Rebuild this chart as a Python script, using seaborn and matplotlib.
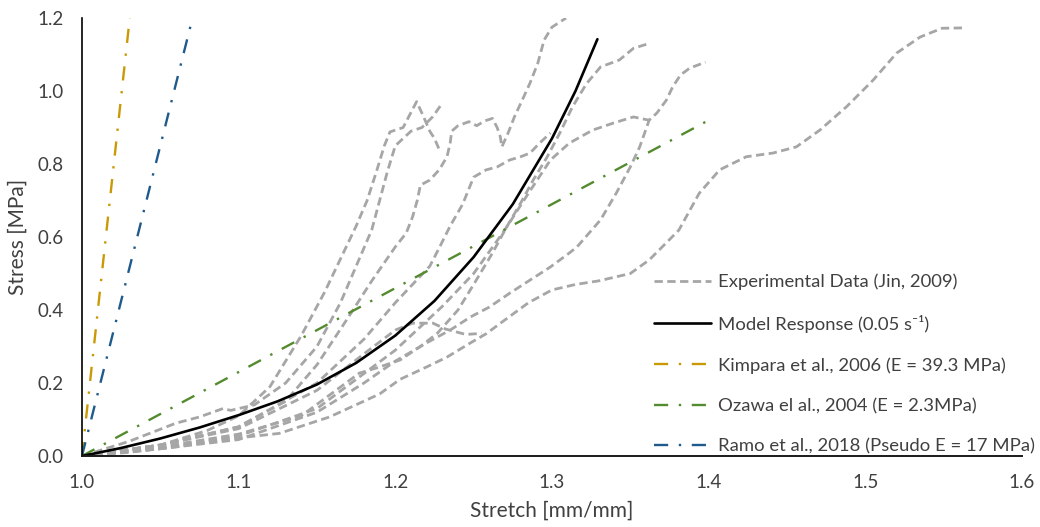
import numpy as np
import pandas as pd
import matplotlib
matplotlib.use("Agg")
import matplotlib.pyplot as plt
import seaborn as sns

# Experimental stress-stretch traces (Jin, 2009): stretch [mm/mm], stress [MPa]
exp_1_x = [1.0, 1.03, 1.06, 1.09, 1.126, 1.158, 1.19, 1.203, 1.22, 1.233, 1.248, 1.258, 1.27, 1.285, 1.30,
           1.315, 1.33, 1.35, 1.362, 1.372, 1.381, 1.394, 1.407, 1.424, 1.441, 1.456, 1.471, 1.488, 1.505,
           1.52, 1.535, 1.549, 1.563]
exp_1_y = [0.0, 0.01, 0.025, 0.045, 0.062, 0.107, 0.17, 0.21, 0.244, 0.271, 0.31, 0.335, 0.373, 0.42, 0.455,
           0.47, 0.48, 0.50, 0.537, 0.58, 0.619, 0.72, 0.784, 0.82, 0.83, 0.847, 0.893, 0.957, 1.03,
           1.104, 1.148, 1.172, 1.173]

exp_2_x = [1.0, 1.05, 1.1, 1.15, 1.18, 1.2, 1.22, 1.235, 1.248, 1.26, 1.273, 1.286, 1.299, 1.311, 1.316,
           1.331, 1.341, 1.35, 1.356, 1.362, 1.367, 1.373, 1.377, 1.382, 1.388, 1.398]
exp_2_y = [0.0, 0.02, 0.045, 0.12, 0.2, 0.26, 0.31, 0.345, 0.381, 0.408, 0.446, 0.482, 0.518, 0.556, 0.573,
           0.647, 0.72, 0.792, 0.847, 0.92, 0.94, 0.975, 1.011, 1.044, 1.063, 1.079]

exp_3_x = [1.0, 1.05, 1.1, 1.14, 1.177, 1.19, 1.203, 1.216, 1.227, 1.24, 1.25, 1.262, 1.271, 1.28, 1.288,
           1.297, 1.305, 1.313, 1.322, 1.331, 1.343, 1.352, 1.3625]
exp_3_y = [0.0, 0.025, 0.06, 0.11, 0.227, 0.244, 0.263, 0.30, 0.337, 0.40, 0.47, 0.556, 0.627, 0.693, 0.756,
           0.82, 0.885, 0.956, 1.02, 1.066, 1.085, 1.117, 1.131]

exp_4_x = [1.0, 1.05, 1.1, 1.13, 1.15, 1.17, 1.185, 1.2, 1.207, 1.211, 1.214, 1.216, 1.222, 1.228, 1.233,
           1.235, 1.236, 1.24, 1.247, 1.252, 1.257, 1.262, 1.265, 1.267, 1.268, 1.272, 1.276, 1.281, 1.286,
           1.291, 1.295, 1.30, 1.309]
exp_4_y = [0.0, 0.03, 0.08, 0.15, 0.25, 0.38, 0.48, 0.573, 0.611, 0.655, 0.70, 0.742, 0.756, 0.784, 0.82,
           0.857, 0.89, 0.905, 0.916, 0.905, 0.918, 0.925, 0.90, 0.875, 0.847, 0.885, 0.929, 0.975, 1.022,
           1.077, 1.14, 1.175, 1.20]

exp_5_x = [1.0, 1.05, 1.08, 1.1, 1.12, 1.14, 1.155, 1.165, 1.175, 1.182, 1.188, 1.193, 1.1966, 1.205,
           1.2136, 1.218, 1.222, 1.225, 1.228]
exp_5_y = [0.0, 0.03, 0.07, 0.11, 0.19, 0.33, 0.45, 0.54, 0.63, 0.70, 0.78, 0.85, 0.888, 0.90,
           0.971, 0.93, 0.89, 0.87, 0.84]

exp_6_x = [1.0, 1.03, 1.06, 1.075, 1.09, 1.095, 1.11, 1.13, 1.15, 1.165, 1.175, 1.185, 1.19, 1.195, 1.2,
           1.21, 1.217, 1.224, 1.23]
exp_6_y = [0.0, 0.04, 0.09, 0.107, 0.13, 0.125, 0.14, 0.2, 0.3, 0.42, 0.52, 0.62, 0.70, 0.78, 0.85,
           0.89, 0.90, 0.93, 0.967]

exp_7_x = [1.0, 1.05, 1.1, 1.15, 1.18, 1.2, 1.222, 1.228, 1.235, 1.243, 1.25, 1.258, 1.265, 1.273, 1.28,
           1.286, 1.292, 1.299]
exp_7_y = [0.0, 0.03, 0.08, 0.2, 0.32, 0.42, 0.52, 0.57, 0.63, 0.69, 0.764, 0.784, 0.792, 0.811, 0.82,
           0.83, 0.857, 0.885]

exp_8_x = [1.0, 1.05, 1.1, 1.15, 1.2, 1.23, 1.25, 1.27, 1.285, 1.299, 1.311, 1.326, 1.339, 1.352, 1.362]
exp_8_y = [0.0, 0.02, 0.055, 0.13, 0.29, 0.41, 0.50, 0.62, 0.72, 0.811, 0.857, 0.893, 0.912, 0.929, 0.92]

exp_9_x = [1.0, 1.05, 1.1, 1.15, 1.18, 1.2, 1.211, 1.224, 1.232, 1.245, 1.255]
exp_9_y = [0.0, 0.03, 0.075, 0.18, 0.28, 0.345, 0.364, 0.364, 0.348, 0.333, 0.336]

# Constitutive model response at 0.05 1/s
model_x = [1.0, 1.025, 1.05, 1.075, 1.1, 1.125, 1.15, 1.175, 1.2, 1.225, 1.25, 1.275, 1.3, 1.315, 1.329]
model_y = [0.0, 0.022, 0.048, 0.078, 0.112, 0.150, 0.196, 0.255, 0.33, 0.425, 0.545, 0.69, 0.87, 1.0, 1.142]

# Linear-elastic literature models
kimpara_x = [1.0, 1.0305]
kimpara_y = [0.0, 1.2]
ozawa_x = [1.0, 1.4]
ozawa_y = [0.0, 0.92]
ramo_x = [1.0, 1.07]
ramo_y = [0.0, 1.19]

x_ticks = [1.0, 1.1, 1.2, 1.3, 1.4, 1.5, 1.6]
y_ticks = [0.0, 0.2, 0.4, 0.6, 0.8, 1.0, 1.2]

labels = {
    "exp": "Experimental Data (Jin, 2009)",
    "model": "Model Response (0.05 s\u207b\u00b9)",
    "kimpara": "Kimpara et al., 2006 (E = 39.3 MPa)",
    "ozawa": "Ozawa el al., 2004 (E = 2.3MPa)",
    "ramo": "Ramo et al., 2018 (Pseudo E = 17 MPa)",
}

sns.set_theme(style="white")
plt.rcParams["font.family"] = ["Lato", "DejaVu Sans"]

fig = plt.figure(figsize=(10.4, 5.27), dpi=100)
ax = fig.add_axes([0.0788, 0.1347, 0.9039, 0.8311])

gray = "#A6A6A6"
gold = "#C99A06"
green = "#558B2F"
blue = "#1F5A8C"

exp_sets = [(exp_1_x, exp_1_y), (exp_2_x, exp_2_y), (exp_3_x, exp_3_y), (exp_4_x, exp_4_y),
            (exp_5_x, exp_5_y), (exp_6_x, exp_6_y), (exp_7_x, exp_7_y), (exp_8_x, exp_8_y),
            (exp_9_x, exp_9_y)]

for i, (xs, ys) in enumerate(exp_sets):
    df = pd.DataFrame({"stretch": xs, "stress": ys})
    sns.lineplot(data=df, x="stretch", y="stress", ax=ax, sort=False, estimator=None,
                 color=gray, linewidth=2.0, dashes=False,
                 label=labels["exp"] if i == 0 else "_nolegend_")
    ax.lines[-1].set_dashes((3.0, 1.6))

dashdot = (6, 4.5, 1, 4.5)
for xs, ys, col, key in [(ozawa_x, ozawa_y, green, "ozawa"),
                         (kimpara_x, kimpara_y, gold, "kimpara"),
                         (ramo_x, ramo_y, blue, "ramo")]:
    df = pd.DataFrame({"stretch": xs, "stress": ys})
    sns.lineplot(data=df, x="stretch", y="stress", ax=ax, sort=False, estimator=None,
                 color=col, linewidth=1.7, label=labels[key])
    ax.lines[-1].set_dashes(dashdot)

df = pd.DataFrame({"stretch": model_x, "stress": model_y})
sns.lineplot(data=df, x="stretch", y="stress", ax=ax, sort=False, estimator=None,
             color="black", linewidth=1.9, label=labels["model"])

ax.set_xlim(1.0, 1.6)
ax.set_ylim(0.0, 1.2)
ax.set_xticks(x_ticks)
ax.set_yticks(y_ticks)
ax.set_xticklabels([f"{v:.1f}" for v in x_ticks])
ax.set_yticklabels([f"{v:.1f}" for v in y_ticks])
ax.tick_params(axis="both", length=0, pad=13, labelsize=13.5, labelcolor="#404040")
ax.set_xlabel("Stretch [mm/mm]", fontsize=15, color="#404040", labelpad=7)
ax.set_ylabel("Stress [MPa]", fontsize=15, color="#404040", labelpad=7)

for side in ["top", "right"]:
    ax.spines[side].set_visible(False)
ax.spines["left"].set_color("black")
ax.spines["left"].set_linewidth(1.2)
ax.spines["bottom"].set_color("#1a1a1a")
ax.spines["bottom"].set_linewidth(1.4)

handles, labs = ax.get_legend_handles_labels()
order = [labels["exp"], labels["model"], labels["kimpara"], labels["ozawa"], labels["ramo"]]
hmap = dict(zip(labs, handles))
leg = ax.legend([hmap[k] for k in order], order, loc="upper left", bbox_to_anchor=(0.608, 0.416),
                frameon=False, fontsize=13.3, handlelength=3.1, handletextpad=0.4,
                labelspacing=1.32, borderpad=0, borderaxespad=0)
for t in leg.get_texts():
    t.set_color("#404040")

fig.savefig("out.png", dpi=100)
